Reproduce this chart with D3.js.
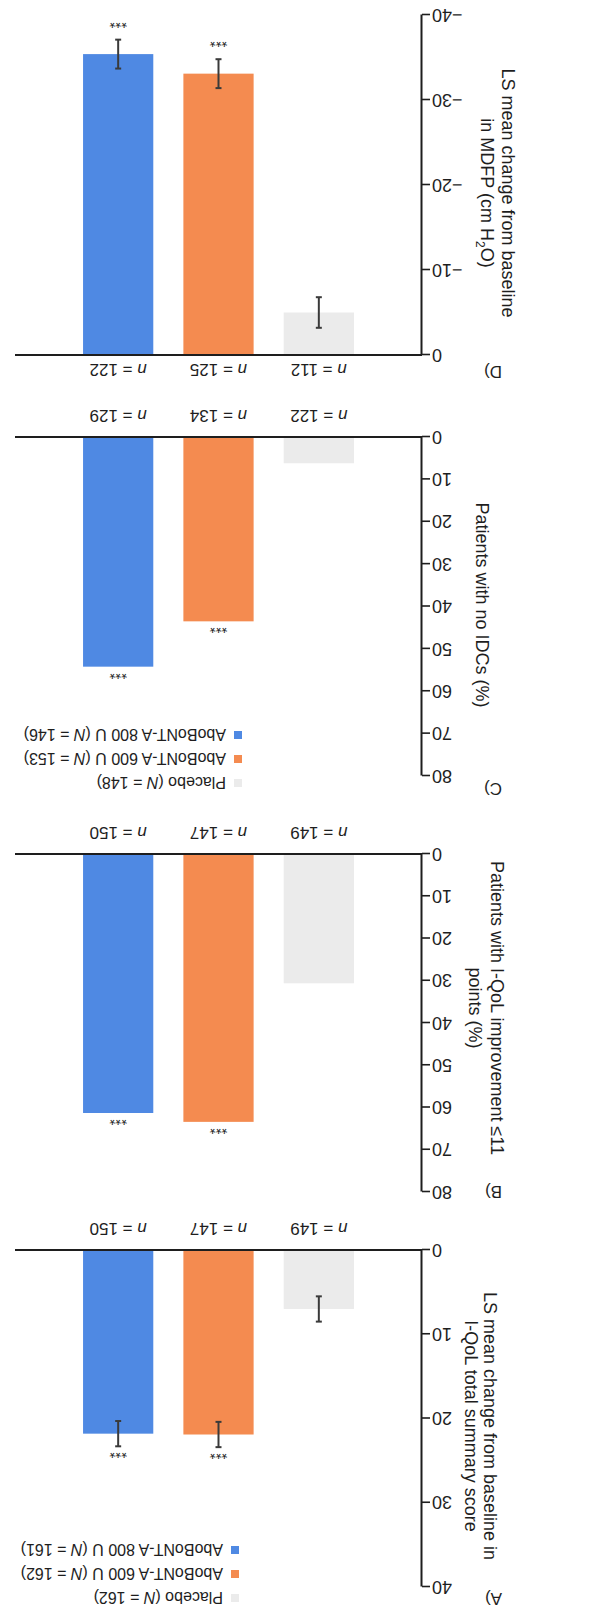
<!DOCTYPE html>
<html>
<head>
<meta charset="utf-8">
<script src="https://cdn.jsdelivr.net/npm/d3@7"></script>
<style>
  body { margin: 0; background: #fff; }
  svg text { font-family: "Liberation Sans", Arial, Helvetica, sans-serif; fill: #1e1e1e; }
</style>
</head>
<body>
<div id="chart"></div>
<script>
let w = 589;
let h = 1618;

// groups + colours
let groups = ["Placebo", "AboBoNT-A 600 U", "AboBoNT-A 800 U"];
let groupColors = ["#ebebeb", "#f48b50", "#4f89e3"];
let stars = ["", "***", "***"];

// panel texts
let panelLetters = ["A)", "B)", "C)", "D)"];
let titlesA = ["LS mean change from baseline in", "I-QoL total summary score"];
let titlesB = ["Patients with I-QoL improvement \u226411", "points (%)"];
let titlesC = ["Patients with no IDCs (%)"];
let titlesD = ["LS mean change from baseline", "in MDFP (cm H|2|O)"];

// tick labels
let ticksA = [0, 10, 20, 30, 40];
let ticksB = [0, 10, 20, 30, 40, 50, 60, 70, 80];
let ticksC = [0, 10, 20, 30, 40, 50, 60, 70, 80];
let ticksD = [0, -10, -20, -30, -40];

// values (placebo, 600 U, 800 U)
let valuesA = [7.0, 21.9, 21.8];
let errorsA = [1.5, 1.5, 1.5];
let valuesB = [30.6, 63.4, 61.3];
let valuesC = [6.2, 43.5, 54.2];
let valuesD = [-5.0, -33.1, -35.4];
let errorsD = [1.8, 1.7, 1.7];

let nA = [149, 147, 150];
let nB = [149, 147, 150];
let nC = [122, 134, 129];
let nD = [112, 125, 122];

let legendNA = [162, 162, 161];
let legendNC = [148, 153, 146];

// layout (drawn upright, then the whole figure is turned 180deg like the scan)
let axisX = 167;
let panels = [
  {letter: panelLetters[0], titles: titlesA, ticks: ticksA, values: valuesA, errors: errorsA, n: nA, legendN: legendNA,
   range: [368, 31], letterY: 20, titleY: 192, titleX: [99, 118], legendY: 20, legendX: 350},
  {letter: panelLetters[1], titles: titlesB, ticks: ticksB, values: valuesB, errors: null, n: nB, legendN: null,
   range: [764, 426], letterY: 427, titleY: 610, titleX: [92, 114]},
  {letter: panelLetters[2], titles: titlesC, ticks: ticksC, values: valuesC, errors: null, n: nC, legendN: legendNC,
   range: [1181, 842], letterY: 830, titleY: 1013, titleX: [107], legendY: 835, legendX: 347},
  {letter: panelLetters[3], titles: titlesD, ticks: ticksD, values: valuesD, errors: errorsD, n: nD, legendN: null,
   range: [1263, 1603], letterY: 1247, titleY: 1425, titleX: [81, 102]}
];

let svg = d3.select("#chart")
  .append("svg")
  .attr("width", w)
  .attr("height", h)
  .attr("viewBox", "0 0 " + w + " " + h);

let viz = svg.append("g")
  .attr("transform", "rotate(180," + (w / 2) + "," + (h / 2) + ")");

let xScale = d3.scaleBand()
  .domain(groups)
  .range([220, 521])
  .paddingInner(0.3)
  .paddingOuter(0.15);

panels.forEach(function (p) {
  let g = viz.append("g");
  let lo = d3.min(p.ticks), hi = d3.max(p.ticks);
  let dom = hi > 0 ? [0, hi] : [0, lo];
  let yScale = d3.scaleLinear().domain(dom).range(p.range);
  let neg = hi <= 0;

  // bars
  g.selectAll(".bar")
    .data(p.values)
    .enter()
    .append("rect")
    .attr("class", "bar")
    .attr("x", (d, i) => xScale(groups[i]))
    .attr("width", xScale.bandwidth())
    .attr("y", d => Math.min(yScale(0), yScale(d)))
    .attr("height", d => Math.abs(yScale(d) - yScale(0)))
    .attr("fill", (d, i) => groupColors[i]);

  // error bars
  if (p.errors) {
    let eg = g.selectAll(".err")
      .data(p.values)
      .enter()
      .append("g")
      .attr("class", "err")
      .attr("stroke", "#3a3a3a")
      .attr("stroke-width", 2);
    eg.append("line")
      .attr("x1", (d, i) => xScale(groups[i]) + xScale.bandwidth() / 2)
      .attr("x2", (d, i) => xScale(groups[i]) + xScale.bandwidth() / 2)
      .attr("y1", (d, i) => yScale(d - p.errors[i]))
      .attr("y2", (d, i) => yScale(d + p.errors[i]));
    [-1, 1].forEach(function (s) {
      eg.append("line")
        .attr("x1", (d, i) => xScale(groups[i]) + xScale.bandwidth() / 2 - 3)
        .attr("x2", (d, i) => xScale(groups[i]) + xScale.bandwidth() / 2 + 3)
        .attr("y1", (d, i) => yScale(d + s * p.errors[i]))
        .attr("y2", (d, i) => yScale(d + s * p.errors[i]));
    });
  }

  // significance stars
  g.selectAll(".star")
    .data(p.values)
    .enter()
    .append("text")
    .attr("class", "star")
    .attr("x", (d, i) => xScale(groups[i]) + xScale.bandwidth() / 2)
    .attr("y", function (d, i) {
      let e = p.errors ? p.errors[i] : 0;
      let end = neg ? yScale(d - e) + 13 : yScale(d + e) - 11;
      return end + 9;
    })
    .attr("text-anchor", "middle")
    .attr("font-size", 15)
    .text((d, i) => stars[i]);

  // baseline
  g.append("line")
    .attr("x1", axisX)
    .attr("x2", 574)
    .attr("y1", yScale(0))
    .attr("y2", yScale(0))
    .attr("stroke", "#1e1e1e")
    .attr("stroke-width", 2);

  // y axis
  let yAxis = d3.axisLeft(yScale)
    .tickValues(p.ticks)
    .tickSize(8)
    .tickSizeOuter(0)
    .tickPadding(2);
  let axisGroup = g.append("g")
    .attr("transform", "translate(" + axisX + ",0)")
    .call(yAxis);
  axisGroup.select(".domain").attr("stroke", "#1e1e1e").attr("stroke-width", 2);
  axisGroup.selectAll(".tick line").attr("stroke", "#1e1e1e").attr("stroke-width", 1.6);
  axisGroup.selectAll(".tick text")
    .attr("font-size", 18)
    .attr("font-family", "'Liberation Sans', Arial, sans-serif")
    .attr("fill", "#1e1e1e");

  // n labels
  let nText = g.selectAll(".nlab")
    .data(p.n)
    .enter()
    .append("text")
    .attr("class", "nlab")
    .attr("x", (d, i) => xScale(groups[i]) + xScale.bandwidth() / 2)
    .attr("y", neg ? yScale(0) - 15 : yScale(0) + 21)
    .attr("dominant-baseline", "central")
    .attr("text-anchor", "middle")
    .attr("font-size", 17);
  nText.append("tspan").attr("font-style", "italic").text("n");
  nText.append("tspan").text(d => " = " + d);

  // axis title (rotated)
  p.titles.forEach(function (t, k) {
    let tt = g.append("text")
      .attr("transform", "translate(" + p.titleX[k] + "," + p.titleY + ") rotate(-90)")
      .attr("text-anchor", "middle")
      .attr("dominant-baseline", "central")
      .attr("font-size", 18);
    let parts = t.split("|");
    parts.forEach(function (part, j) {
      let ts = tt.append("tspan").text(part);
      if (j == 1) {
        ts.attr("font-size", 12).attr("baseline-shift", "sub");
      }
    });
  });

  // panel letter
  g.append("text")
    .attr("x", 87)
    .attr("y", p.letterY)
    .attr("dominant-baseline", "central")
    .attr("font-size", 17)
    .text(p.letter);

  // legend
  if (p.legendN) {
    let lg = g.selectAll(".leg")
      .data(groups)
      .enter()
      .append("g")
      .attr("class", "leg")
      .attr("transform", (d, i) => "translate(" + p.legendX + "," + (p.legendY + i * 24) + ")");
    lg.append("rect")
      .attr("x", 0)
      .attr("y", -4)
      .attr("width", 8)
      .attr("height", 8)
      .attr("fill", (d, i) => groupColors[i]);
    let lt = lg.append("text")
      .attr("x", 16)
      .attr("y", 0)
      .attr("dominant-baseline", "central")
      .attr("font-size", 16);
    lt.append("tspan").text(d => d + " (");
    lt.append("tspan").attr("font-style", "italic").text("N");
    lt.append("tspan").text((d, i) => " = " + p.legendN[i] + ")");
  }
});
</script>
</body>
</html>
